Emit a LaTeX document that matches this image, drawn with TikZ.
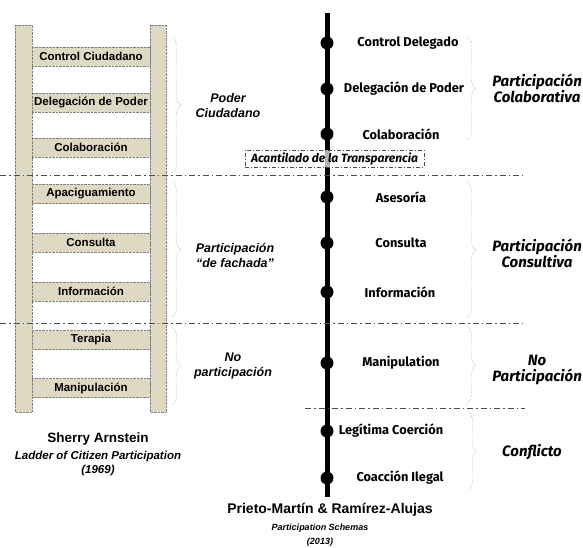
\documentclass[tikz,border=0pt]{standalone}
\usepackage{fontspec}
\setmainfont{Liberation Sans}
\newfontfamily\schemafont{Fira Sans}
\usetikzlibrary{decorations.pathreplacing}
\definecolor{laddertan}{HTML}{DDD9C3}
\definecolor{dotgray}{HTML}{7F7F7F}

\tikzset{
  rail/.style={draw=dotgray, densely dotted, fill=laddertan},
  rung/.style={draw=dotgray, densely dotted, fill=laddertan, minimum width=118pt, minimum height=19pt, inner sep=0pt, font=\fontsize{11.5}{13}\selectfont\bfseries},
  grouplabel/.style={align=center, font=\fontsize{12.5}{15}\selectfont\bfseries\itshape},
  stage/.style={font=\schemafont\fontsize{12.8}{15}\selectfont\bfseries},
  schemalabel/.style={align=center, font=\schemafont\fontsize{15}{16}\selectfont\bfseries\itshape},
  stagedot/.style={circle, fill=black, minimum size=13pt, inner sep=0pt},
  divider/.style={draw=black!70, line width=0.8pt, dash pattern=on 6pt off 3pt on 1.5pt off 3pt},
  groupbrace/.style={draw=dotgray, densely dotted, decorate, decoration={brace, amplitude=9pt}},
  cliffbox/.style={draw=black!70, line width=0.6pt, dash pattern=on 4pt off 2pt on 1pt off 2pt, fill=white, fill opacity=0.7, text opacity=1, minimum width=179pt, minimum height=17pt, inner sep=1pt, font=\schemafont\fontsize{12}{13}\selectfont\bfseries\itshape},
  title/.style={align=center, font=\fontsize{13.5}{16}\selectfont\bfseries},
  subtitle/.style={align=center, font=\fontsize{11.5}{14}\selectfont\bfseries\itshape}
}

\begin{document}
\begin{tikzpicture}[x=1pt,y=-1pt]
\useasboundingbox (0,0) rectangle (583,548);

\draw[rail] (15,25) rectangle (32,412);
\draw[rail] (150,25) rectangle (166,412);

\node[rung] (ccontrol) at (91,56.5) {Control Ciudadano};
\node[rung] (cdeleg) at (91,102.5) {Delegación de Poder};
\node[rung] (ccolab) at (91,147.5) {Colaboración};
\node[rung] (capac) at (91,194) {Apaciguamiento};
\node[rung] (cconsulta) at (91,242.5) {Consulta};
\node[rung] (cinfo) at (91,291.5) {Información};
\node[rung] (cterapia) at (91,340) {Terapia};
\node[rung] (cmanip) at (91,388) {Manipulación};

\draw[groupbrace] (172,37) -- (172,173);
\draw[groupbrace] (172,182) -- (172,317);
\draw[groupbrace] (172,327) -- (172,405);

\node[grouplabel] (poder) at (228,106) {Poder\\Ciudadano};
\node[grouplabel] (fachada) at (235,255) {Participación\\“de fachada”};
\node[grouplabel] (nopart) at (233,366) {No\\participación};

\coordinate (spinetop) at (327,13);
\coordinate (spinebot) at (327,497);
\draw[line width=5pt] (spinetop) -- (spinebot);

\node[stagedot] (d1) at (327,43) {};
\node[stagedot] (d2) at (327,89) {};
\node[stagedot] (d3) at (327,134) {};
\node[stagedot] (d4) at (327,197) {};
\node[stagedot] (d5) at (327,243) {};
\node[stagedot] (d6) at (327,292) {};
\node[stagedot] (d7) at (327,363) {};
\node[stagedot] (d8) at (327,431) {};
\node[stagedot] (d9) at (327,478) {};

\node[stage] (s1) at (408,43) {Control Delegado};
\node[stage] (s2) at (404,89) {Delegación de Poder};
\node[stage] (s3) at (401,134) {Colaboración};
\node[stage] (s4) at (401,197) {Asesoría};
\node[stage] (s5) at (401,243) {Consulta};
\node[stage] (s6) at (400,292) {Información};
\node[stage] (s7) at (401,363) {Manipulation};
\node[stage] (s8) at (391,431) {Legítima Coerción};
\node[stage] (s9) at (400,478) {Coacción Ilegal};

\node[cliffbox] (cliff) at (334.5,158.5) {Acantilado de la Transparencia};

\coordinate (divAl) at (0,175);
\coordinate (divAr) at (523,175);
\coordinate (divBl) at (0,323);
\coordinate (divBr) at (523,323);
\coordinate (divCl) at (305,408);
\coordinate (divCr) at (525,408);
\draw[divider] (divAl) -- (divAr);
\draw[divider] (divBl) -- (divBr);
\draw[divider] (divCl) -- (divCr);

\draw[groupbrace] (467,37) -- (467,140);
\draw[groupbrace] (467,182) -- (467,318);
\draw[groupbrace] (467,327) -- (467,403);
\draw[groupbrace] (468,412) -- (468,490);

\node[schemalabel] (colab) at (537,88) {Participación\\Colaborativa};
\node[schemalabel] (consult) at (537,253) {Participación\\Consultiva};
\node[schemalabel] (nopart2) at (537,370) {No\\Participación};
\node[schemalabel] (conflicto) at (532,452) {Conflicto};

\node[title] (arnstein) at (98,439) {Sherry Arnstein};
\node[subtitle] (ladder) at (98,463.5) {Ladder of Citizen Participation\\(1969)};
\node[title, font=\fontsize{14}{17}\selectfont\bfseries] (prieto) at (330,510) {Prieto-Martín \& Ramírez-Alujas};
\node[subtitle, font=\fontsize{9}{14}\selectfont\bfseries\itshape] (schemas) at (320,535) {Participation Schemas\\(2013)};
\end{tikzpicture}
\end{document}
